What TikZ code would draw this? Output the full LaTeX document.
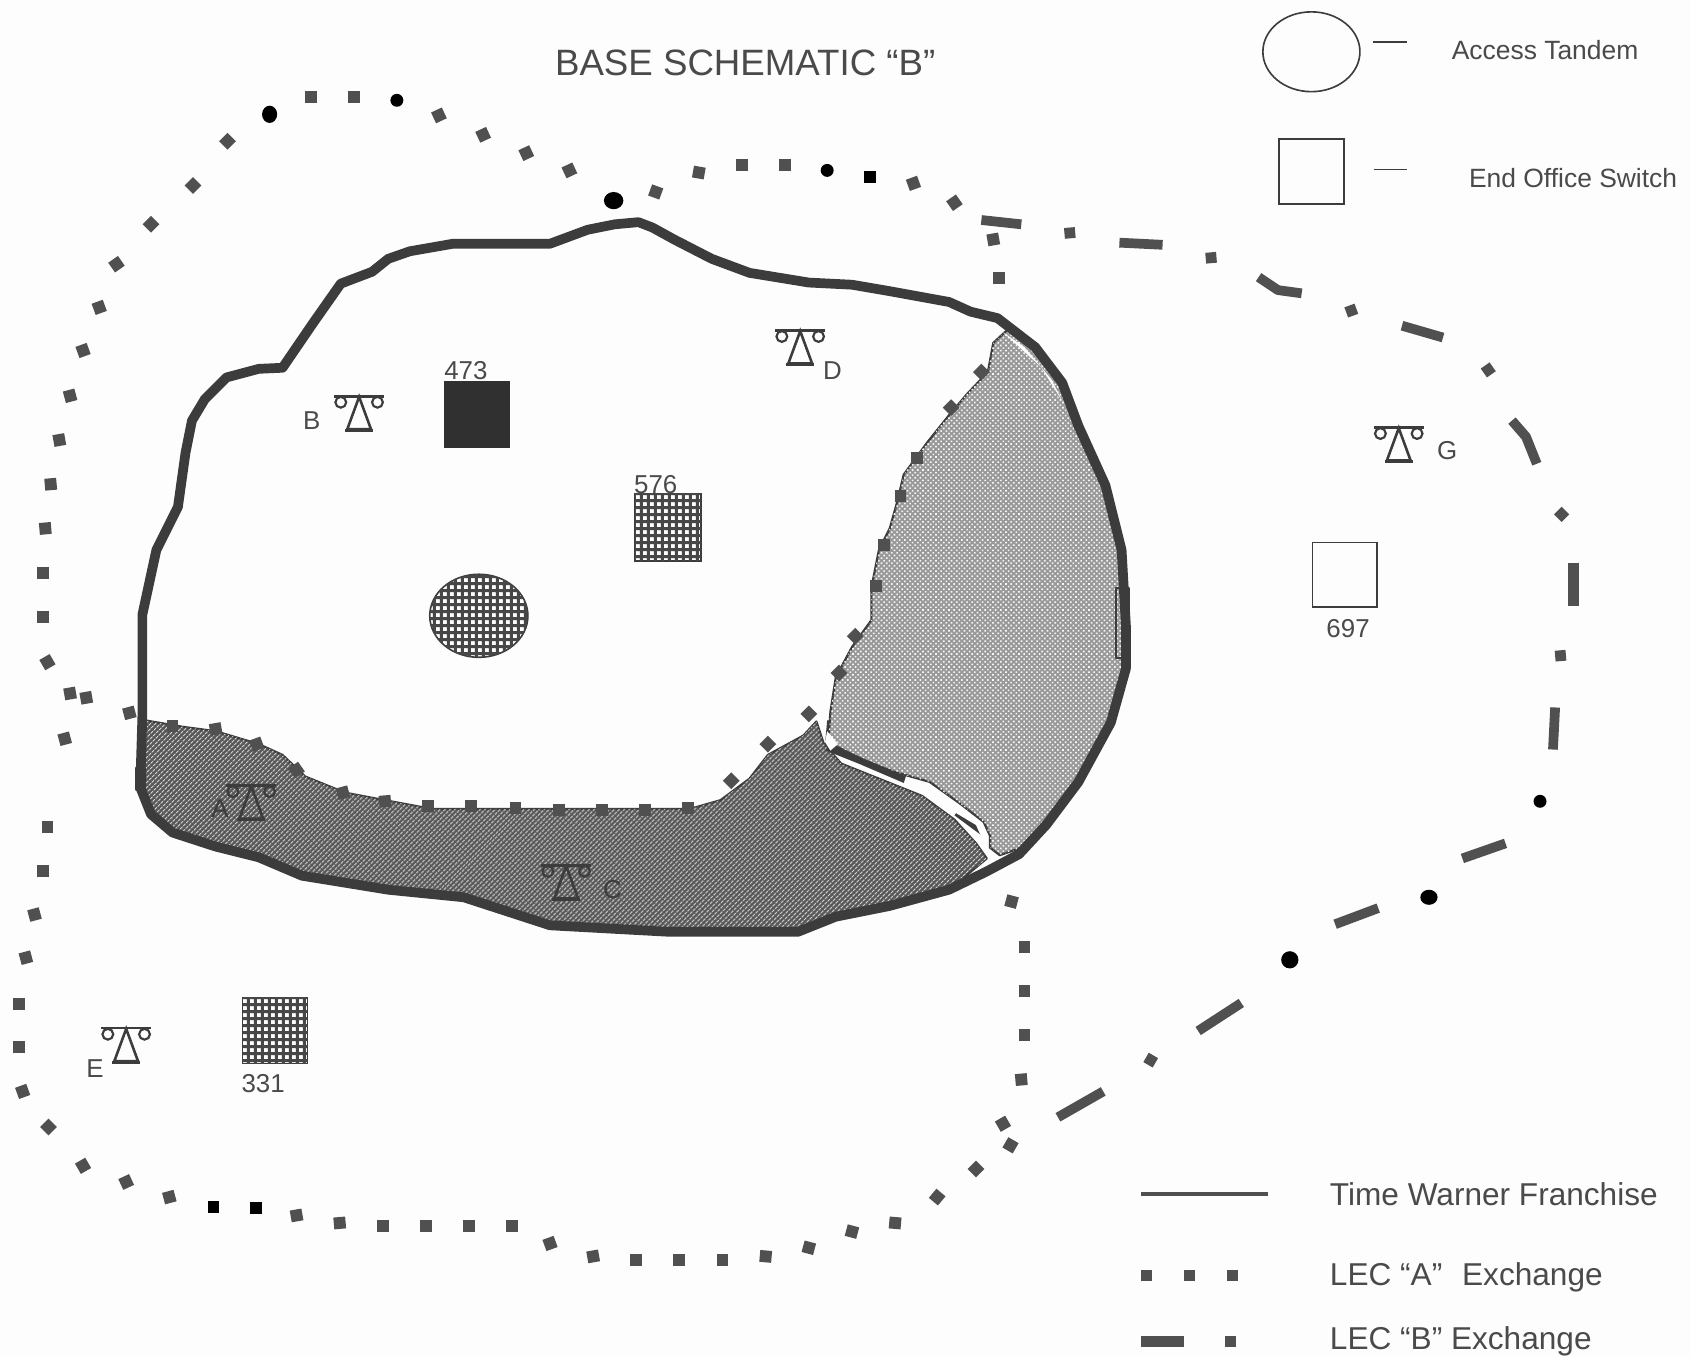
\documentclass[tikz,border=0pt]{standalone}
\usepackage{fontspec}
\setmainfont{Liberation Sans}
\usetikzlibrary{patterns.meta}
\definecolor{ink}{HTML}{3C3C3C}
\definecolor{txt}{HTML}{4A4A4A}
\definecolor{paper}{HTML}{FDFDFD}
\newcommand{\fsz}[1]{\fontsize{#1}{#1}\selectfont}
\tikzset{
  x=1pt,y=-1pt,
  boundary/.style={draw=ink,line width=9pt,line join=round,line cap=round},
  thinline/.style={draw=ink,line width=2pt,line join=round},
  lecdot/.style={fill=ink!90!white},
  lecdash/.style={draw=ink!90!white,line width=9pt},
  acfill/.style={fill=black!66,postaction={pattern={Lines[angle=45,distance=4pt,line width=1.2pt]},pattern color=black!15}},
  dfill/.style={fill=black!40,postaction={pattern={Dots[radius=1.05pt,distance=3.4pt,angle=45]},pattern color=black!3}},
  gridfill/.style={draw=ink,line width=1.5pt,fill=paper,postaction={pattern={Hatch[angle=0,distance=6.4pt,line width=2.8pt]},pattern color=black!72}},
  label/.style={text=txt,font=\fsz{24},inner sep=0pt},
  legendtxt/.style={text=txt,font=\fsz{29.3},inner sep=0pt,anchor=west},
  topkey/.style={text=txt,font=\fsz{24.5},inner sep=0pt,anchor=west},
  towerpic/.pic={
    \draw[pic actions,line width=2.2pt,line join=miter] (-23,-15.5) -- (23,-15.5);
    \draw[pic actions,line width=2pt] (-17,-10) circle (5);
    \draw[pic actions,line width=2pt] (17,-10) circle (5);
    \draw[pic actions,line width=2.4pt,line join=miter] (0,-15) -- (-11,15) -- (11,15) -- cycle;
    \draw[pic actions,line width=2.4pt] (-13,16) -- (13,16);
  }
}
\begin{document}
\begin{tikzpicture}
\useasboundingbox[fill=paper] (0,0) rectangle (1568,1258);

% shaded exchanges
\path[dfill,thinline] (935,305) -- (921,318) -- (916,345) -- (897,365) -- (880,385) -- (860,410) -- (838,440) -- (832,465) -- (825,490) -- (815,510) -- (808,545) -- (808,575) -- (790,600) -- (775,628) -- (770,660) -- (768,688) -- (800,705) -- (830,716) -- (862,725) -- (890,745) -- (912,762) -- (918,775) -- (918,786) -- (927,793)
 -- (950,785) -- (970,765) -- (1000,725) -- (1030,670) -- (1044,620) -- (1044,580) -- (1040,510) -- (1025,450) -- (1000,395) -- (985,355) -- (960,322) -- cycle;
\path[acfill,thinline] (135,668) -- (170,674) -- (200,678) -- (240,690) -- (262,700) -- (283,720) -- (320,735) -- (357,742) -- (400,750) -- (640,750) -- (668,742) -- (695,722) -- (712,700) -- (745,682) -- (757,669) -- (764,690) -- (780,708) -- (820,724) -- (855,738) -- (885,760) -- (905,782) -- (915,796)
 -- (880,825) -- (825,840) -- (775,850) -- (740,864) -- (620,864) -- (510,858) -- (470,845) -- (430,832) -- (360,825) -- (280,812) -- (240,795) -- (200,785) -- (160,772) -- (140,755) -- (130,730) -- cycle;

% franchise boundary
\path[boundary] (132,665) -- (132,570) -- (145,510) -- (165,470) -- (172,420) -- (178,390) -- (190,370) -- (210,350) -- (240,342) -- (262,341) -- (290,300) -- (316,263) -- (345,252) -- (360,240) -- (380,233) -- (420,226) -- (510,226) -- (545,213) -- (570,208) -- (592,206) -- (605,211) -- (625,222) -- (660,240) -- (695,253) -- (750,262) -- (790,264) -- (825,270) -- (880,280) -- (900,289) -- (925,295) -- (960,322) -- (985,355) -- (1000,395) -- (1025,450) -- (1040,510) -- (1044,580) -- (1044,620) -- (1030,670) -- (1000,725) -- (970,765) -- (945,792) -- (915,808) -- (880,825) -- (825,840) -- (775,850) -- (740,864) -- (620,864) -- (510,858) -- (470,845) -- (430,832) -- (360,825) -- (280,812) -- (240,795) -- (200,785) -- (160,772) -- (140,755) -- (130,730) -- cycle;
\path[thinline] (1035,545) rectangle (1047,610);
\path[thinline] (126,712) rectangle (134,732);
\path[thinline] (768,668) -- (766,690) -- (800,707);
\fill[paper] (930,308) -- (965,340) -- (985,372) -- (975,352) -- (950,322) -- cycle;
\fill[ink] (768,688) -- (800,703) -- (840,720) -- (838,726) -- (796,708) -- (766,696) -- cycle;
\fill[ink] (890,750) -- (912,768) -- (912,776) -- (885,756) -- cycle;
\fill[paper] (767,678) -- (777,690) -- (770,696) -- (765,688) -- cycle;
\fill[paper] (858,732) -- (880,742) -- (905,760) -- (914,770) -- (914,785) -- (905,765) -- (880,750) -- cycle;

% LEC A squares (upper loop and shared edge)
\foreach \x/\y/\a in {528/158/25,488/142/25,448/125/25,407/107/25,328/90/0,288/90/0,211/131/-45,179/172/-45,140/208/-45,108/245/-55,92/285/-70,77/325/-70,65/367/-75,55/408/-80,47/449/-85,42/490/-85,40/531/0,40/572/0,44/614/30,65/643/10,80/647/10,120/661/15,
 160/673/0,200/676/10,238/690/20,275/714/35,318/735/15,357/743/5,397/747/0,437/747/0,478/749/0,518/751/0,558/751/0,598/751/0,638/749/0,678/724/45,712/690/45,750/662/45,778/624/45,793/590/45,812/543/0,820/505/0,835/460/0,850/425/0,882/378/45,910/345/45,926/258/0,921/222/10,885/188/35,847/170/20,728/153/0,688/153/0,648/160/-10,608/178/-20,
 60/685/15,44/767/0,40/808/0,32/848/15,24/888/15,18/931/0,18/971/0,21/1012/20,45/1045/45,77/1081/30,117/1096/25,157/1110/15,275/1127/10,315/1134/5,355/1137/0,395/1137/0,435/1137/0,475/1137/0,510/1153/20,550/1165/10,590/1168/0,630/1168/0,670/1168/0,710/1165/-5,750/1157/-15,790/1142/-15,830/1134/-5,869/1110/-40,905/1084/-45,930/1042/30,937/1062/-30,947/1001/5,950/960/0,950/919/0,950/878/0,938/836/-15}
  {\fill[lecdot,shift={(\x,\y)},rotate=\a] (-5.5,-5.5) rectangle (5.5,5.5);}
% black markers
\foreach \x/\y/\rx/\ry in {569/186/9/8,368/93/6/6,250/106/7/8,767/158/6/6,1428/743/6/6,1325/832/8/7,1196/890/8/8}
  {\fill[black] (\x,\y) ellipse ({\rx} and {\ry});}
\foreach \x/\y in {807/164,198/1119,237/1120}
  {\fill[black] (\x-5.5,\y-5.5) rectangle (\x+5.5,\y+5.5);}

% LEC B
\draw[lecdash] (910,204) -- (947,208);
\draw[lecdash] (1038,225) -- (1078,227);
\draw[lecdash,line join=round] (1167,257) -- (1185,269) -- (1207,272);
\draw[lecdash] (1300,302) -- (1338,313);
\draw[lecdash,line join=round] (1402,390) -- (1415,405) -- (1425,430);
\draw[lecdash,line width=10pt] (1459,522) -- (1459,562);
\draw[lecdash,line join=round] (1442,656) -- (1440,695);
\draw[lecdash] (1396,782) -- (1356,796);
\draw[lecdash] (1278,842) -- (1238,857);
\draw[lecdash] (1151,930) -- (1111,956);
\draw[lecdash] (1023,1012) -- (981,1036);
\foreach \x/\y/\a in {992/216/5,1123/239/5,1253/288/20,1380/343/35,1448/477/45,1447/608/5,1067/983/-30}
  {\fill[lecdot,shift={(\x,\y)},rotate=\a] (-5,-5) rectangle (5,5);}

% title
\node[text=txt,font=\fsz{34},inner sep=0pt] (title) at (691,58) {BASE SCHEMATIC “B”};

% key, top right
\draw[ink,line width=1.5pt] (1216,48) ellipse (45 and 37);
\draw[ink,line width=1.5pt] (1273,39) -- (1305,39);
\node[topkey] (k1) at (1346,46) {Access Tandem};
\draw[ink,line width=1.5pt] (1186,129) rectangle (1246,189);
\draw[ink,line width=1.5pt] (1274,157) -- (1305,157);
\node[topkey] (k2) at (1362,165) {End Office Switch};

% switches
\fill[ink!80!black] (412,353) rectangle (473,415);
\node[label] (n473) at (432,344) {473};
\path[gridfill] (589,458) rectangle (650,520);
\node[label] (n576) at (608,449) {576};
\path[gridfill] (444,571) ellipse (45.5 and 38.5);
\path[gridfill] (225,925) rectangle (285,986);
\node[label] (n331) at (244,1005) {331};
\draw[ink,line width=1.6pt] (1217,503) rectangle (1277,563);
\node[label] (n697) at (1250,583) {697};

% towers
\pic[draw=ink] at (333,383) {towerpic};
\pic[draw=ink] at (742,322) {towerpic};
\pic[draw=ink] at (1297,412) {towerpic};
\pic[draw=ink] at (233,744) {towerpic};
\pic[draw=ink] at (525,818) {towerpic};
\pic[draw=ink] at (117,969) {towerpic};
\node[label] (lb) at (289,390) {B};
\node[label] (ld) at (772,344) {D};
\node[label] (lg) at (1342,418) {G};
\node[label,text=ink] (la) at (204,750) {A};
\node[label,text=ink] (lc) at (568,825) {C};
\node[label] (le) at (88,991) {E};

% legend
\draw[ink!90!white,line width=4pt] (1058,1107) -- (1176,1107);
\node[legendtxt] (l1) at (1233,1107) {Time Warner Franchise};
\foreach \x in {1063,1103,1143}
  {\fill[lecdot] (\x-5,1178) rectangle (\x+5,1188);}
\node[legendtxt] (l2) at (1233,1184) {LEC “A”\hspace{0.35em} Exchange};
\draw[lecdash,line width=10pt] (1058,1244) -- (1098,1244);
\fill[lecdot] (1136,1239) rectangle (1146,1249);
\node[legendtxt] (l3) at (1233,1244) {LEC “B” Exchange};
\end{tikzpicture}
\end{document}
